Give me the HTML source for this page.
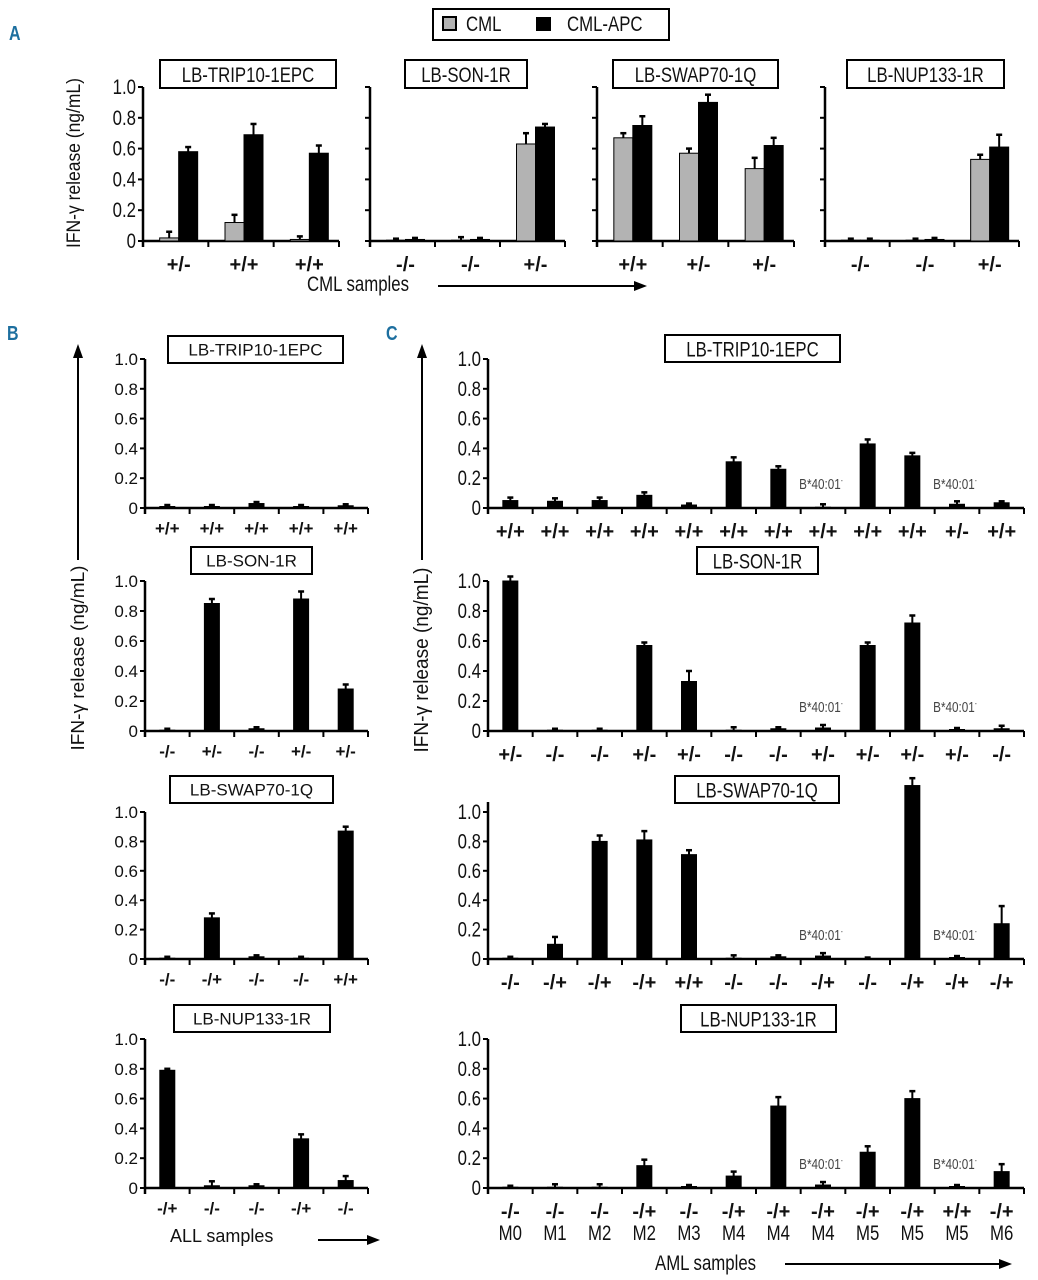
<!DOCTYPE html>
<html><head><meta charset="utf-8"><style>
body{margin:0;background:#fff}
svg{display:block}
text{font-family:"Liberation Sans",sans-serif;fill:#111}
</style></head><body>
<svg id="fig" width="1038" height="1280" viewBox="0 0 1038 1280"></svg>
<script>
const yTickVals=[0,0.2,0.4,0.6,0.8,1.0];
const yTickLabels=["0","0.2","0.4","0.6","0.8","1.0"];
// Panel A
const aTitles=["LB-TRIP10-1EPC","LB-SON-1R","LB-SWAP70-1Q","LB-NUP133-1R"];
const aCats=[["+/-","+/+","+/+"],["-/-","-/-","+/-"],["+/+","+/-","+/-"],["-/-","-/-","+/-"]];
const aCml=[[0.02,0.12,0.01],[0.005,0.005,0.63],[0.67,0.57,0.47],[0.005,0.005,0.53]];
const aCmlErr=[[0.04,0.05,0.02],[0.01,0.02,0.07],[0.03,0.03,0.07],[0.01,0.01,0.03]];
const aApc=[[0.58,0.69,0.57],[0.01,0.01,0.74],[0.75,0.90,0.62],[0.005,0.01,0.61]];
const aApcErr=[[0.03,0.07,0.05],[0.01,0.01,0.02],[0.06,0.05,0.05],[0.01,0.01,0.08]];
// Panel B
const bTitles=["LB-TRIP10-1EPC","LB-SON-1R","LB-SWAP70-1Q","LB-NUP133-1R"];
const bCats=[["+/+","+/+","+/+","+/+","+/+"],["-/-","+/-","-/-","+/-","+/-"],["-/-","-/+","-/-","-/-","+/+"],["-/+","-/-","-/-","-/+","-/-"]];
const bVals=[[0.01,0.01,0.03,0.01,0.015],[0.005,0.85,0.015,0.88,0.28],[0.005,0.28,0.015,0.005,0.87],[0.79,0.015,0.015,0.33,0.05]];
const bErr=[[0.01,0.01,0.01,0.01,0.01],[0.01,0.03,0.01,0.05,0.03],[0.01,0.03,0.01,0.01,0.03],[0.01,0.03,0.01,0.03,0.03]];
// Panel C
const cTitles=["LB-TRIP10-1EPC","LB-SON-1R","LB-SWAP70-1Q","LB-NUP133-1R"];
const cCats=[["+/+","+/+","+/+","+/+","+/+","+/+","+/+","+/+","+/+","+/+","+/-","+/+"],
["+/-","-/-","-/-","+/-","+/-","-/-","-/-","+/-","+/-","+/-","+/-","-/-"],
["-/-","-/+","-/+","-/+","+/+","-/-","-/-","-/+","-/-","-/+","-/+","-/+"],
["-/-","-/-","-/-","-/+","-/-","-/+","-/+","-/+","-/+","-/+","+/+","-/+"]];
const cVals=[[0.05,0.045,0.05,0.085,0.02,0.31,0.26,0.005,0.43,0.35,0.025,0.035],
[1.0,0.005,0.005,0.57,0.33,0.005,0.015,0.02,0.57,0.72,0.01,0.015],
[0.005,0.10,0.80,0.81,0.71,0.005,0.015,0.02,0.0,1.18,0.01,0.24],
[0.005,0.005,0.005,0.15,0.01,0.08,0.55,0.02,0.24,0.60,0.01,0.11]];
const cErr=[[0.02,0.02,0.02,0.02,0.01,0.03,0.02,0.02,0.03,0.02,0.02,0.01],
[0.03,0.01,0.01,0.02,0.07,0.02,0.01,0.02,0.02,0.05,0.01,0.02],
[0.01,0.05,0.04,0.06,0.03,0.02,0.01,0.02,0.01,0.05,0.01,0.12],
[0.01,0.02,0.02,0.04,0.01,0.03,0.06,0.02,0.04,0.05,0.01,0.05]];
const cSubtypes=["M0","M1","M2","M2","M3","M4","M4","M4","M5","M5","M5","M6"];
const cNoteIdx=[7,10];

const NS="http://www.w3.org/2000/svg";
const svg=document.getElementById('fig');
function mk(tag,attrs,parent,txt){const e=document.createElementNS(NS,tag);for(const k in attrs)e.setAttribute(k,attrs[k]);if(txt!==undefined)e.textContent=txt;(parent||svg).appendChild(e);return e;}
function cond(t,s){const X=parseFloat(t.getAttribute('x'));t.setAttribute('transform',`matrix(${s},0,0,1,${X*(1-s)},0)`);return t;}
const S=0.8;

function yScale(v,top,base){return base-(base-top)*v;}

function drawAxes(g,x0,x1,top,base,n,tickLabels,fontSize,wide,axisTop){
  const ya=mk('line',{x1:x0,y1:axisTop,x2:x0,y2:base+6,stroke:'#000','stroke-width':2.5},g);
  
  const xa=mk('line',{x1:x0-1,y1:base,x2:x1,y2:base,stroke:'#000','stroke-width':2.5},g);
  
  yTickVals.forEach((v,i)=>{const y=yScale(v,top,base);
    mk('line',{x1:x0-5,y1:y,x2:x0,y2:y,stroke:'#000','stroke-width':2},g);
    if(tickLabels){const t=mk('text',{x:x0-7,y:y+(wide?6:7),'text-anchor':'end','font-size':fontSize},g,yTickLabels[i]);
      if(!wide)cond(t,S);
      }
  });
  const w=(x1-x0)/n;
  for(let i=1;i<=n;i++){mk('line',{x1:x0+w*i,y1:base,x2:x0+w*i,y2:base+6,stroke:'#000','stroke-width':2},g);}
  return w;
}
function bar(g,x,w,v,err,top,base,fill,name){
  const y=yScale(v,top,base);
  const r=mk('rect',{x:x,y:y,width:w,height:base-y,fill:fill,stroke:'#000','stroke-width':1},g);
  
  const ye=yScale(v+err,top,base);const cx=x+w/2;
  mk('line',{x1:cx,y1:y,x2:cx,y2:ye,stroke:'#000','stroke-width':2},g);
  mk('line',{x1:cx-3,y1:ye,x2:cx+3,y2:ye,stroke:'#000','stroke-width':2.5},g);
}
function titleBox(g,x,y,w,h,txt,fs,wide){
  const b=mk('g',{},g);
  mk('rect',{x:x,y:y,width:w,height:h,fill:'#fff',stroke:'#000','stroke-width':2},b);
  const t=mk('text',{x:x+w/2,y:y+h/2+(wide?6:8),'text-anchor':'middle','font-size':fs},b,txt);
  if(!wide)cond(t,S);
}
function letter(x,y,t){const e=mk('text',{x:x,y:y,'font-size':20,'font-weight':'bold',style:'fill:#1d6f9f'},svg,t);
  cond(e,0.8);
  }
function arrowH(x1,x2,y,name){const g=mk('g',{});
  mk('line',{x1:x1,y1:y,x2:x2-10,y2:y,stroke:'#000','stroke-width':2},g);
  mk('polygon',{points:`${x2},${y} ${x2-13},${y-5} ${x2-13},${y+5}`,fill:'#000'},g);}
function arrowV(x,y1,y2,name){const g=mk('g',{});
  mk('line',{x1:x,y1:y1,x2:x,y2:y2+10,stroke:'#000','stroke-width':2},g);
  mk('polygon',{points:`${x},${y2} ${x-5},${y2+14} ${x+5},${y2+14}`,fill:'#000'},g);}
function yTitle(x,y,fs,len){const t=mk('text',{x:x,y:y,'text-anchor':'middle','font-size':fs,textLength:len,lengthAdjust:'spacingAndGlyphs',transform:`rotate(-90 ${x} ${y})`},svg,'IFN-γ release (ng/mL)');
  }

letter(9,40,'A');letter(7,340,'B');letter(386,340,'C');

// Legend
const lg=mk('g',{});
mk('rect',{x:433,y:9,width:236,height:31,fill:'#fff',stroke:'#000','stroke-width':2},lg);
const le1=mk('g',{},lg);
mk('rect',{x:443,y:17,width:13,height:13,fill:'#b3b3b3',stroke:'#000','stroke-width':2},le1);
cond(mk('text',{x:466,y:31,'font-size':21},le1,'CML'),S);
const le2=mk('g',{},lg);
mk('rect',{x:536,y:17,width:15,height:14,fill:'#000'},le2);
cond(mk('text',{x:567,y:31,'font-size':21},le2,'CML-APC'),S);

// Panel A
const aX=[[143,339],[370,565],[597,794],[825,1019]];
const aBoxes=[[160,60,176,28],[405,60,122,28],[613,60,165,28],[847,60,157,28]];
const aTop=87,aBase=241;
aX.forEach((r,p)=>{
  const g=mk('g',{});
  titleBox(g,...aBoxes[p],aTitles[p],21);
  const w=drawAxes(g,r[0],r[1],aTop,aBase,3,p===0,21,false,aTop);
  aCats[p].forEach((c,i)=>{const cx=r[0]+w*(i+0.5)+3;
    bar(g,cx-19,19,aCml[p][i],aCmlErr[p][i],aTop,aBase,'#b3b3b3','bar-cml');
    bar(g,cx,19,aApc[p][i],aApcErr[p][i],aTop,aBase,'#000','bar-cml-apc');
    const t=mk('text',{x:cx,y:aBase+30,'text-anchor':'middle','font-size':20,'font-weight':'bold'},g,c);
    
  });
});
yTitle(80,163,19,170);
const cmlS=cond(mk('text',{x:307,y:291,'font-size':21},svg,'CML samples'),S);
arrowH(438,647,286,'x-arrow-a');

// Panels B and C rows
const rows=[[359,508],[581,731],[812,959],[1039,1188]];
const bBoxes=[[168,336,175,27],[191,547,121,27],[170,776,163,27],[174,1005,156,27]];
const cBoxes=[[665,335,175,27],[697,547,121,27],[675,776,164,27],[681,1005,155,27]];
rows.forEach((rw,p)=>{
  const [top,base]=rw;
  const g=mk('g',{});
  titleBox(g,...bBoxes[p],bTitles[p],17,true);
  const w=drawAxes(g,145,368,top,base,5,true,17,true,top);
  bVals[p].forEach((v,i)=>{const cx=145+w*(i+0.5);
    bar(g,cx-7.5,15,v,bErr[p][i],top,base,'#000','bar-all-sample');
    const t=mk('text',{x:cx,y:base+26,'text-anchor':'middle','font-size':17,'font-weight':'bold'},g,bCats[p][i]);
    
  });
  const h=mk('g',{});
  titleBox(h,...cBoxes[p],cTitles[p],21);
  const w2=drawAxes(h,488,1024,top,base,12,true,21,false,p===2?top-10:top);
  cVals[p].forEach((v,i)=>{const cx=488+w2*(i+0.5);
    bar(h,cx-7.5,15,v,cErr[p][i],top,base,'#000','bar-aml-sample');
    const t=mk('text',{x:cx,y:base+30,'text-anchor':'middle','font-size':20,'font-weight':'bold'},h,cCats[p][i]);
    
  });
  cNoteIdx.forEach(i=>{const cx=488+w2*(i+0.5);
    const t=mk('text',{x:cx-2,y:base-19,'text-anchor':'middle','font-size':15,style:'fill:#444'},h);
    t.textContent='B*40:01';
    mk('tspan',{dy:-6,'font-size':8},t,'-');
    cond(t,0.78);
    
  });
  if(p===3){cSubtypes.forEach((m,i)=>{const cx=488+w2*(i+0.5);
    const t=cond(mk('text',{x:cx,y:1240,'text-anchor':'middle','font-size':21},h,m),S);
    });}
});
arrowV(78,560,344,'y-arrow-b');
arrowV(422,560,344,'y-arrow-c');
yTitle(84,658,18,185);
yTitle(428,660,20,185);
const allS=mk('text',{x:170,y:1242,'font-size':18},svg,'ALL samples');
arrowH(318,380,1240,'x-arrow-b');
const amlS=cond(mk('text',{x:655,y:1270,'font-size':21},svg,'AML samples'),S);
arrowH(785,1012,1264,'x-arrow-c');
</script>
</body></html>
